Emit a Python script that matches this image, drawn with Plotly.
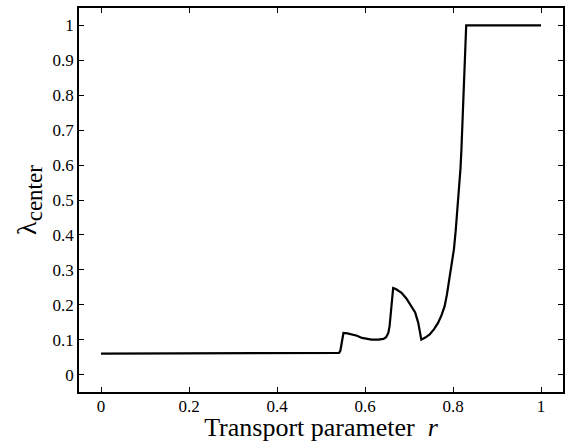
import plotly.graph_objects as go

r_values = [0.0, 0.536, 0.541, 0.544, 0.546, 0.548, 0.551, 0.560, 0.570, 0.582, 0.593, 0.604,
            0.615, 0.630, 0.642, 0.648, 0.653, 0.656, 0.659, 0.662, 0.664, 0.670, 0.676,
            0.683, 0.694, 0.706, 0.714, 0.721, 0.725, 0.728, 0.737, 0.747, 0.757, 0.766,
            0.774, 0.781, 0.786, 0.790, 0.794, 0.798, 0.802, 0.806, 0.809, 0.812, 0.815,
            0.817, 0.819, 0.822, 0.824, 0.826, 0.828, 0.830, 1.0]
lambda_values = [0.060, 0.060, 0.062, 0.068, 0.085, 0.105, 0.119, 0.118, 0.115, 0.111, 0.105,
                 0.102, 0.100, 0.100, 0.102, 0.107, 0.119, 0.140, 0.186, 0.225, 0.248, 0.245,
                 0.240, 0.234, 0.218, 0.196, 0.178, 0.148, 0.125, 0.100, 0.106, 0.115, 0.130,
                 0.148, 0.170, 0.196, 0.228, 0.263, 0.290, 0.322, 0.358, 0.410, 0.454, 0.500,
                 0.549, 0.590, 0.640, 0.730, 0.800, 0.870, 0.940, 1.0, 1.0]
x_ticks = [0, 0.2, 0.4, 0.6, 0.8, 1]
x_tick_labels = ["0", "0.2", "0.4", "0.6", "0.8", "1"]
y_ticks = [0, 0.1, 0.2, 0.3, 0.4, 0.5, 0.6, 0.7, 0.8, 0.9, 1]
y_tick_labels = ["0", "0.1", "0.2", "0.3", "0.4", "0.5", "0.6", "0.7", "0.8", "0.9", "1"]

FONT = "Liberation Serif"
TICK_FONT = dict(family=FONT, size=17, color="black")

fig = go.Figure()
fig.add_trace(go.Scatter(x=r_values, y=lambda_values, mode="lines",
                         line=dict(color="black", width=2.2), hoverinfo="skip"))

fig.update_layout(
    width=567, height=442, margin=dict(l=79, r=2, t=8, b=50),
    font=dict(family=FONT, size=17, color="black"),
    plot_bgcolor="white", paper_bgcolor="white", showlegend=False,
    xaxis=dict(range=[-0.05, 1.05], tickmode="array", tickvals=x_ticks, ticktext=x_tick_labels,
               showline=True, linecolor="black", linewidth=1.6, mirror="ticks",
               ticks="inside", ticklen=5, tickwidth=1, tickcolor="black",
               showgrid=False, zeroline=False, tickfont=TICK_FONT, ticklabelstandoff=-2,
               title=dict(text="Transport parameter  <i>r</i>",
                          font=dict(family=FONT, size=26, color="black"), standoff=0)),
    yaxis=dict(range=[-0.05, 1.05], tickmode="array", tickvals=y_ticks, ticktext=y_tick_labels,
               showline=True, linecolor="black", linewidth=1.6, mirror="ticks",
               ticks="inside", ticklen=5, tickwidth=1, tickcolor="black",
               showgrid=False, zeroline=False, tickfont=TICK_FONT,
               title=dict(text="λ<sub><span style='font-size:23px'>center</span></sub>",
                          font=dict(family=FONT, size=28, color="black"), standoff=8)),
)

fig.write_html("out.html")
